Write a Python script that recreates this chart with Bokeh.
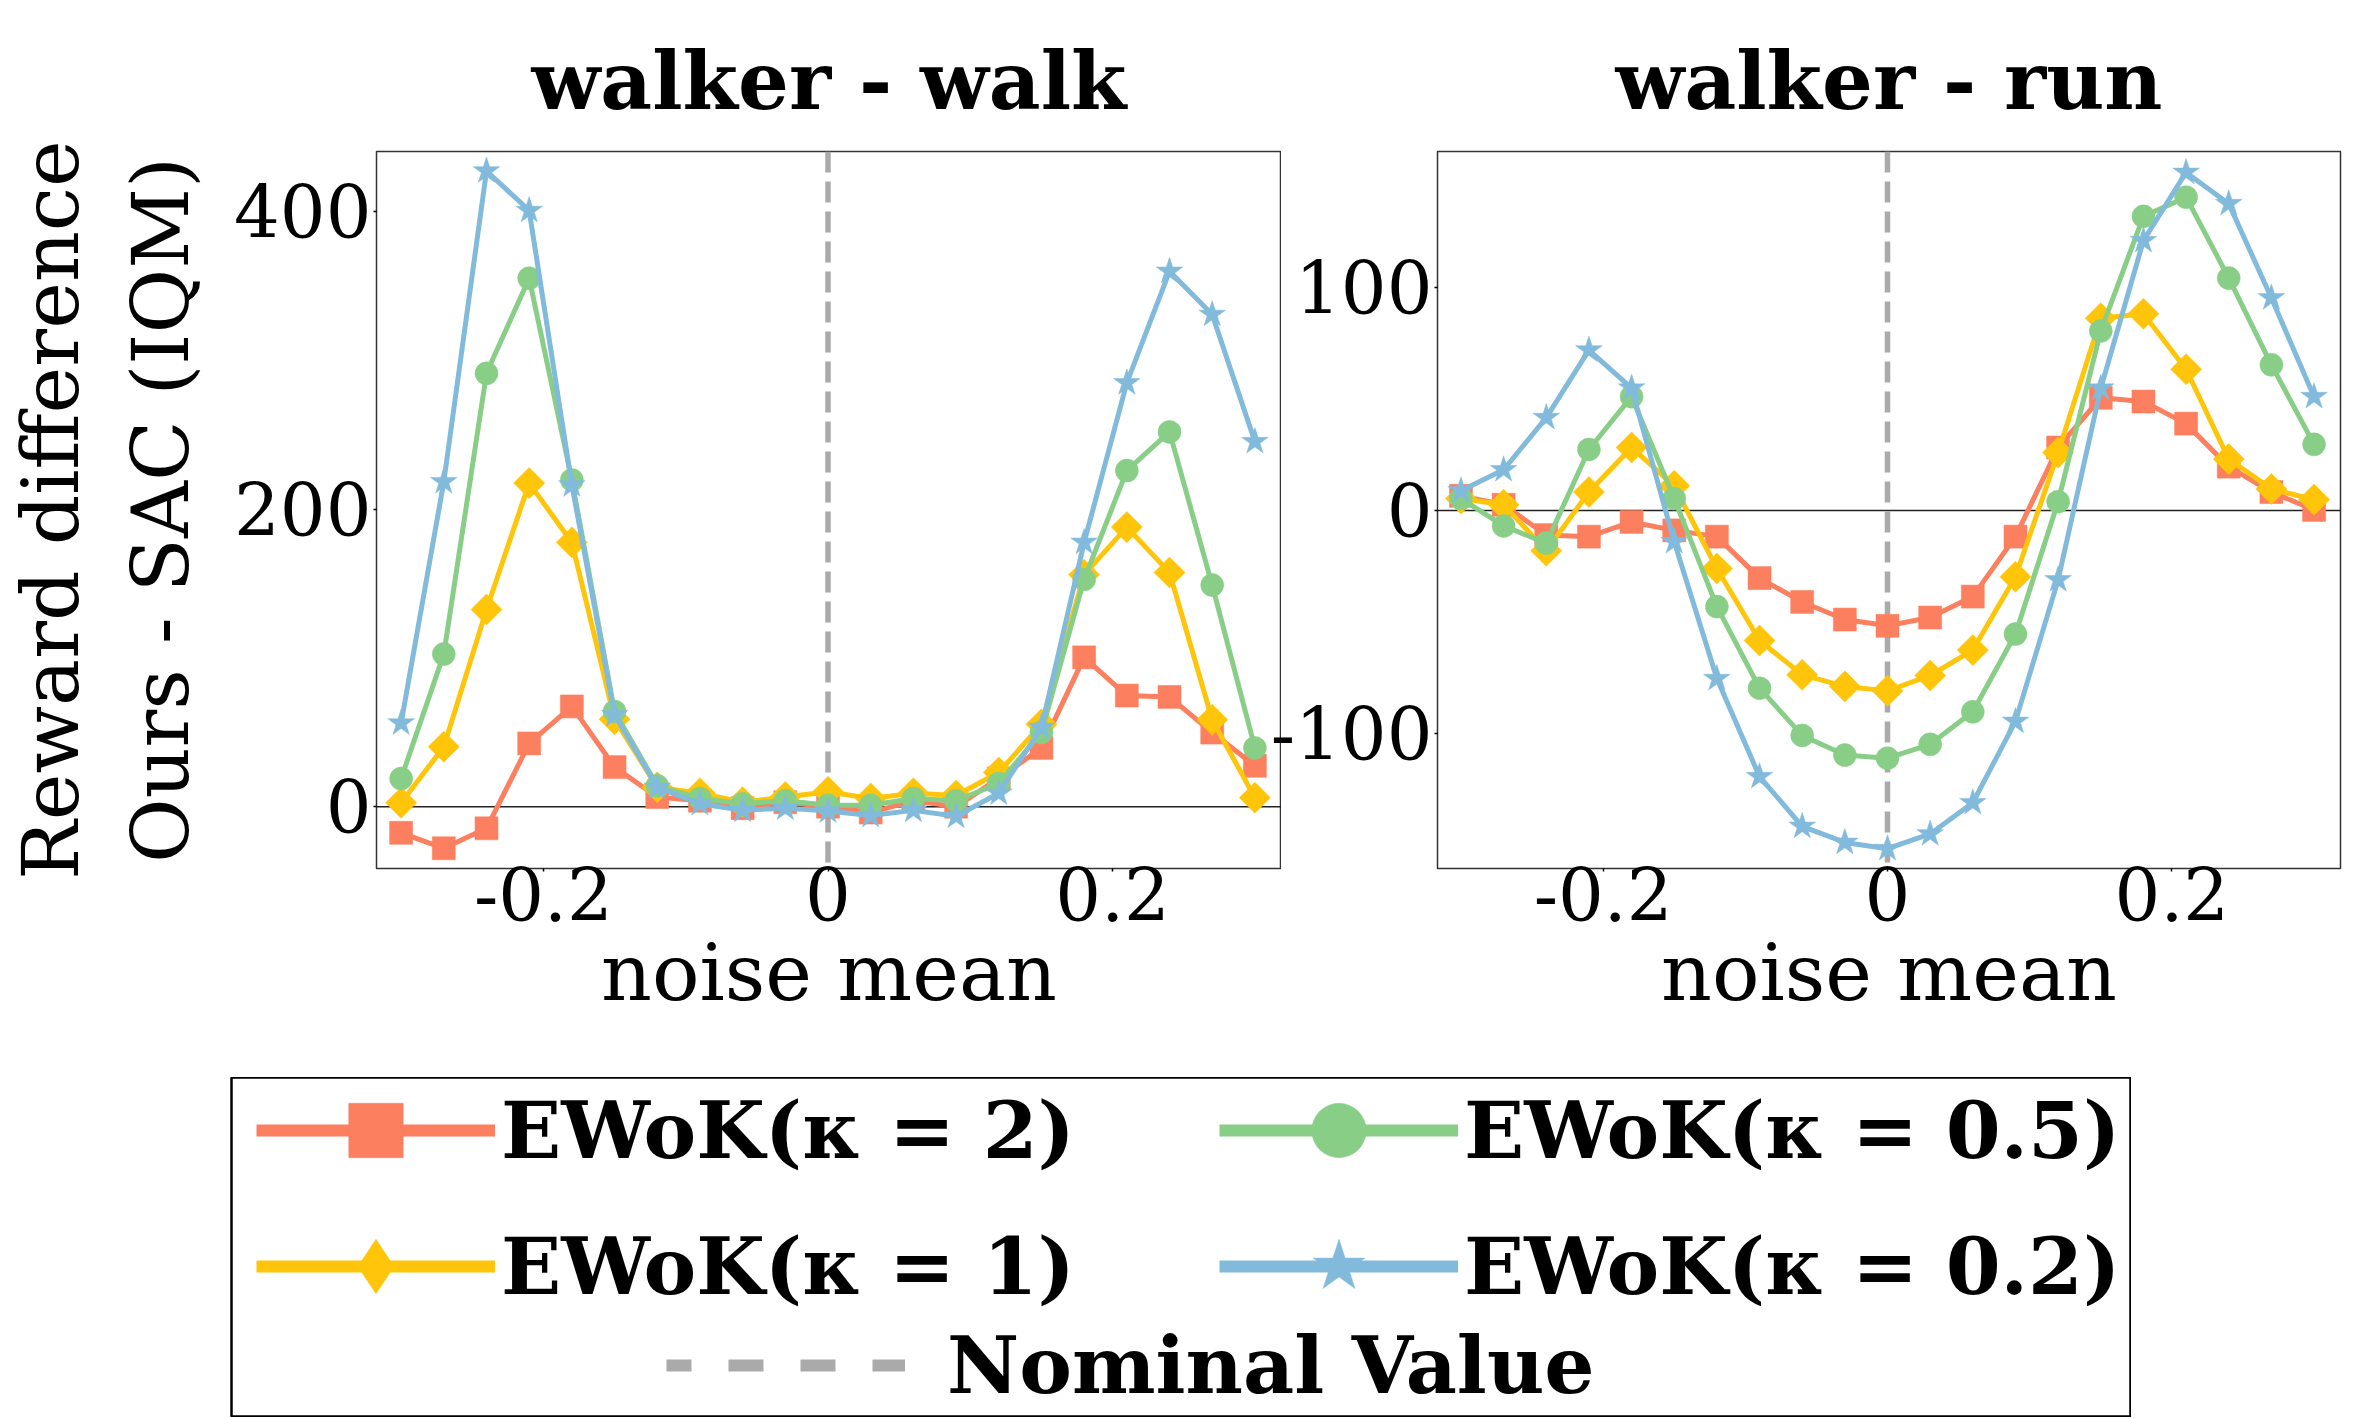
import numpy as np
from bokeh.plotting import figure
from bokeh.models import Span, Range1d, FixedTicker, Legend, LegendItem, LinearAxis
from bokeh.layouts import row, column
from bokeh.embed import file_html
from bokeh.resources import INLINE

# ---------------- data ----------------
noise_mean = [-0.30, -0.27, -0.24, -0.21, -0.18, -0.15, -0.12, -0.09, -0.06, -0.03,
              0.00, 0.03, 0.06, 0.09, 0.12, 0.15, 0.18, 0.21, 0.24, 0.27, 0.30]

walk_k2 = [-17.6, -28.0, -14.6, 42.5, 67.4, 26.6, 6.5, 4.0, -1.0, 3.0,
           0.0, -4.0, 4.0, 0.0, 19.0, 39.5, 100.4, 74.7, 73.8, 49.8, 27.5]
walk_k1 = [2.6, 40.3, 132.6, 217.6, 177.7, 58.8, 13.0, 9.0, 3.0, 6.5,
           10.0, 5.5, 9.0, 7.5, 23.0, 55.4, 156.0, 188.0, 157.5, 58.4, 6.0]
walk_k05 = [18.9, 102.6, 291.4, 355.4, 219.7, 64.0, 14.0, 5.5, 2.0, 4.0,
            1.0, 1.0, 5.5, 4.0, 15.6, 50.0, 152.8, 226.0, 252.0, 149.0, 39.5]
walk_k02 = [56.2, 218.5, 427.5, 400.9, 216.3, 61.8, 13.0, 2.0, -2.5, -1.0,
            -3.0, -6.0, -2.5, -6.5, 9.0, 53.2, 177.7, 285.0, 360.0, 331.0, 245.5]

run_k2 = [6.6, 2.6, -11.0, -11.7, -5.1, -8.9, -11.7, -30.3, -41.0, -48.9,
          -51.7, -48.0, -38.6, -11.7, 28.3, 50.6, 48.9, 39.0, 19.7, 8.3, 0.3]
run_k1 = [5.4, 2.6, -18.0, 8.3, 28.3, 11.1, -26.0, -58.3, -73.7, -78.9,
          -80.9, -74.0, -62.6, -29.7, 26.0, 86.3, 88.3, 63.4, 23.1, 9.7, 4.9]
run_k05 = [5.4, -6.9, -14.6, 27.4, 51.1, 5.4, -43.1, -79.7, -100.9, -109.7,
           -111.1, -104.9, -90.3, -55.4, 4.0, 80.6, 132.0, 140.6, 104.3, 65.4, 29.7]
run_k02 = [8.9, 18.3, 41.7, 72.0, 54.9, -14.0, -75.4, -119.4, -141.7, -148.9,
           -151.7, -145.1, -131.1, -94.6, -31.1, 54.9, 121.1, 151.7, 137.7, 95.4, 51.1]

series_labels = ["EWoK(κ = 2)", "EWoK(κ = 1)", "EWoK(κ = 0.5)", "EWoK(κ = 0.2)"]
nominal_label = "Nominal Value"
titles = ["walker - walk", "walker - run"]
x_ticks = [-0.2, 0.0, 0.2]
x_tick_labels = ["-0.2", "0", "0.2"]
walk_y_ticks = [0, 200, 400]
walk_y_tick_labels = ["0", "200", "400"]
run_y_ticks = [-100, 0, 100]
run_y_tick_labels = ["-100", "0", "100"]
x_label = "noise mean"
y_label = "Reward difference\nOurs - SAC (IQM)"

# ---------------- styles ----------------
colors = ["#FC7F5F", "#FFC50A", "#88CE86", "#82BADC"]
markers = ["square", "square", "circle", "star"]
angles = [0.0, np.pi / 4, 0.0, 0.0]
msizes = [23, 22, 23, 28]
leg_markers = ["square", "diamond", "circle", "star"]
FONT = "DejaVu Serif"


def make_panel(title, ys, xr, yr, yticks, yticklabels, with_ylabel, min_left):
    p = figure(frame_width=905 if with_ylabel else 903, frame_height=717,
               x_range=Range1d(*xr), y_range=Range1d(*yr),
               output_backend="svg", toolbar_location=None,
               min_border_left=min_left, min_border_right=0 if with_ylabel else 3,
               min_border_top=151, min_border_bottom=209)
    p.grid.visible = False
    p.outline_line_color = "#333333"
    p.outline_line_width = 1.5
    p.background_fill_color = "white"

    xa = p.below[0]
    ya = p.left[0]
    for ax in (xa, ya):
        ax.axis_line_color = None
        ax.major_tick_out = 3
        ax.major_tick_in = 0
        ax.minor_tick_line_color = None
        ax.major_tick_line_color = "black"
        ax.major_tick_line_width = 1.5
        ax.major_label_text_font = FONT
        ax.major_label_text_font_size = "72px"
        ax.major_label_text_color = "black"
        ax.axis_label_text_font = FONT
        ax.axis_label_text_font_style = "normal"
        ax.axis_label_text_font_size = "79px"
        ax.axis_label_text_color = "black"
        ax.major_label_standoff = 2

    xa.ticker = FixedTicker(ticks=x_ticks)
    xa.major_label_overrides = {t: l for t, l in zip(x_ticks, x_tick_labels)}
    xa.axis_label = x_label
    xa.major_label_standoff = -4
    xa.axis_label_standoff = 3
    ya.ticker = FixedTicker(ticks=yticks)
    ya.major_label_overrides = {t: l for t, l in zip(yticks, yticklabels)}
    ya.major_label_orientation = "horizontal"
    if with_ylabel:
        ya.axis_label = y_label
        ya.axis_label_standoff = 24

    # panel heading, carried by a tick-less axis above the frame
    head = LinearAxis(axis_label=title, ticker=FixedTicker(ticks=[]))
    head.axis_line_color = None
    head.major_tick_line_color = None
    head.minor_tick_line_color = None
    head.major_tick_out = 0
    head.major_tick_in = 0
    head.major_label_standoff = 0
    head.axis_label_text_font = FONT
    head.axis_label_text_font_style = "bold"
    head.axis_label_text_font_size = "80px"
    head.axis_label_text_color = "black"
    head.axis_label_standoff = 24
    p.add_layout(head, "above")

    p.add_layout(Span(location=0, dimension="width", line_color="#222222",
                      line_width=1.5, level="underlay"))
    p.add_layout(Span(location=0, dimension="height", line_color="#AAAAAA",
                      line_width=5.5, line_dash="21 9", level="underlay"))

    for y, c, m, a, s in zip(ys, colors, markers, angles, msizes):
        p.line(noise_mean, y, line_color=c, line_width=5)
        p.scatter(noise_mean, y, marker=m, angle=a, size=s,
                  fill_color=c, line_color=c, line_width=0.5)
    return p


p1 = make_panel(titles[0], [walk_k2, walk_k1, walk_k05, walk_k02],
                (-0.3173, 0.3187), (-41.6, 440.6),
                walk_y_ticks, walk_y_tick_labels, True, 376)
p2 = make_panel(titles[1], [run_k2, run_k1, run_k05, run_k02],
                (-0.3165, 0.3186), (-160.6, 161.1),
                run_y_ticks, run_y_tick_labels, False, 175)
p2.border_fill_alpha = 0
p2.margin = (0, 0, 0, -19)

# ---------------- legend panel ----------------
# The key's own renderers carry the walker-walk series, but the panel's ranges lie
# beyond every noise-mean value, so only their legend glyphs are seen.
leg = figure(frame_width=1900, frame_height=339, x_range=Range1d(1, 2), y_range=Range1d(1000, 2000),
             output_backend="svg", toolbar_location=None,
             x_axis_type=None, y_axis_type=None,
             min_border_left=231, min_border_right=0, min_border_top=0, min_border_bottom=1)
leg.grid.visible = False
leg.outline_line_color = "black"
leg.outline_line_width = 2.5

items = []
for lab, c, m, y in zip(series_labels, colors, leg_markers, [walk_k2, walk_k1, walk_k05, walk_k02]):
    lr = leg.line(noise_mean, y, line_color=c, line_width=12)
    sr = leg.scatter(noise_mean, y, marker=m, fill_color=c, line_color=c, line_width=0.5)
    items.append(LegendItem(label=lab, renderers=[lr, sr]))
nr = leg.line(noise_mean, walk_k2, line_color="#AAAAAA", line_width=12,
              line_dash="35 37", line_dash_offset=10)
nom_item = LegendItem(label=nominal_label, renderers=[nr])


def style_legend(lg, gh, standoff):
    lg.glyph_width = 239
    lg.glyph_height = gh
    lg.label_standoff = standoff
    lg.spacing = 0
    lg.padding = 0
    lg.margin = 0
    lg.border_line_color = None
    lg.background_fill_alpha = 0
    lg.label_text_font = FONT
    lg.label_text_font_style = "bold"
    lg.label_text_font_size = "79px"
    lg.label_text_color = "black"
    lg.label_height = 80


lgA = Legend(items=[items[0], items[1]], location=(25, 82))
lgB = Legend(items=[items[2], items[3]], location=(988, 82))
lgC = Legend(items=[nom_item], location=(435, 1))
style_legend(lgA, 136, 6)
style_legend(lgB, 136, 6)
style_legend(lgC, 100, 42)
for lg in (lgA, lgB, lgC):
    leg.add_layout(lg, "center")

layout = column(row(p1, p2), leg)
open("out.html", "w").write(file_html(layout, INLINE))
